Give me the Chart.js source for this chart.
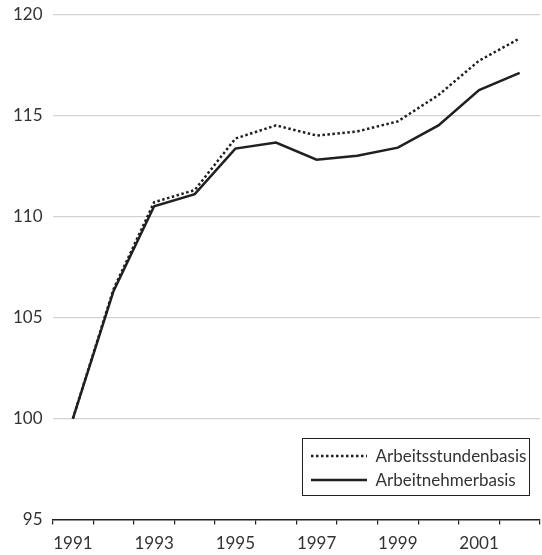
<!DOCTYPE html>
<html>
<head>
<meta charset="utf-8">
<script src="https://cdn.jsdelivr.net/npm/chart.js@4.4.0/dist/chart.umd.min.js"></script>
<style>
  body { margin: 0; background: #fff; }
  #wrap { width: 542px; height: 555px; }
</style>
</head>
<body>
<div id="wrap"><canvas id="myChart"></canvas></div>
<script>
const years = ['1991', '1992', '1993', '1994', '1995', '1996', '1997', '1998', '1999', '2000', '2001', '2002'];
const stundenbasis = [100, 106.4, 110.7, 111.3, 113.85, 114.5, 114.0, 114.2, 114.7, 116.0, 117.7, 118.8];
const nehmerbasis = [100, 106.3, 110.5, 111.1, 113.35, 113.65, 112.8, 113.0, 113.4, 114.5, 116.25, 117.1];
const yTicks = [95, 100, 105, 110, 115, 120];

(function () {
    const ctx = document.getElementById('myChart');
    const ink = '#231f20';
    const fontFam = 'Lato, sans-serif';

    // legend sits inside the plot, bottom right, with a frame round it
    const legendBox = {
        id: 'legendBox',
        afterLayout(chart) {
            const lg = chart.legend;
            const area = chart.chartArea;
            const right = area.right - 11;
            const bottom = area.bottom - 25;
            lg._frame = { left: right - 227, top: bottom - 57, width: 227, height: 57 };
            lg.left = lg._frame.left + 2;
            lg.top = lg._frame.top + 3;
            lg.width = 226;
            lg.height = 200;
            lg.right = lg.left + lg.width;
            lg.bottom = lg.top + lg.height;
        },
        afterDraw(chart) {
            const f = chart.legend._frame;
            if (!f) return;
            const c = chart.ctx;
            c.save();
            c.strokeStyle = ink;
            c.lineWidth = 1;
            c.setLineDash([]);
            c.strokeRect(Math.round(f.left) + 0.5, Math.round(f.top) + 0.5, f.width, f.height);
            c.restore();
        }
    };

    const data = {
        labels: years,
        datasets: [{
            label: 'Arbeitsstundenbasis',
            data: stundenbasis,
            borderColor: ink,
            backgroundColor: ink,
            borderWidth: 2.5,
            borderDash: [2.5, 2.5],
            pointRadius: 0,
            tension: 0
        }, {
            label: 'Arbeitnehmerbasis',
            data: nehmerbasis,
            borderColor: ink,
            backgroundColor: ink,
            borderWidth: 2.5,
            pointRadius: 0,
            tension: 0
        }]
    };

    const config = {
        type: 'line',
        data: data,
        options: {
            responsive: true,
            maintainAspectRatio: false,
            animation: false,
            layout: {
                padding: { top: 4, right: 2, bottom: -8, left: 9 }
            },
            scales: {
                x: {
                    offset: true,
                    border: { display: true, color: ink, width: 1.5 },
                    grid: {
                        offset: true,
                        drawOnChartArea: false,
                        drawTicks: true,
                        tickLength: 5,
                        color: ink,
                        lineWidth: 1.2
                    },
                    ticks: {
                        autoSkip: false,
                        maxRotation: 0,
                        padding: 9,
                        color: '#333',
                        font: { family: fontFam, size: 17 },
                        callback: function (val, i) { return i % 2 === 0 ? years[i] : ''; }
                    }
                },
                y: {
                    min: yTicks[0],
                    max: yTicks[yTicks.length - 1],
                    afterBuildTicks: function (axis) {
                        axis.ticks = yTicks.map(v => ({ value: v }));
                    },
                    border: { display: false },
                    grid: {
                        drawTicks: true,
                        tickLength: 6,
                        tickColor: 'rgba(0,0,0,0)',
                        color: c => c.tick && c.tick.value === yTicks[0] ? 'rgba(0,0,0,0)' : '#d2d2d2',
                        lineWidth: 1.2
                    },
                    ticks: {
                        padding: 4,
                        color: '#333',
                        font: { family: fontFam, size: 17 }
                    }
                }
            },
            plugins: {
                legend: {
                    position: 'chartArea',
                    align: 'start',
                    labels: {
                        usePointStyle: true,
                        pointStyle: 'line',
                        pointStyleWidth: 56,
                        boxHeight: 2,
                        padding: 7,
                        color: '#333',
                        font: { family: fontFam, size: 17 },
                        generateLabels: function (chart) {
                            const items = Chart.defaults.plugins.legend.labels.generateLabels(chart);
                            items.forEach(item => {
                                const ds = chart.data.datasets[item.datasetIndex];
                                item.lineDash = ds.borderDash || [];
                                item.lineWidth = ds.borderWidth;
                                item.strokeStyle = ds.borderColor;
                            });
                            return items;
                        }
                    }
                },
                tooltip: { enabled: false }
            }
        },
        plugins: [legendBox]
    };

    if (ctx) {
        new Chart(ctx, config);
    }
})();
</script>
</body>
</html>
